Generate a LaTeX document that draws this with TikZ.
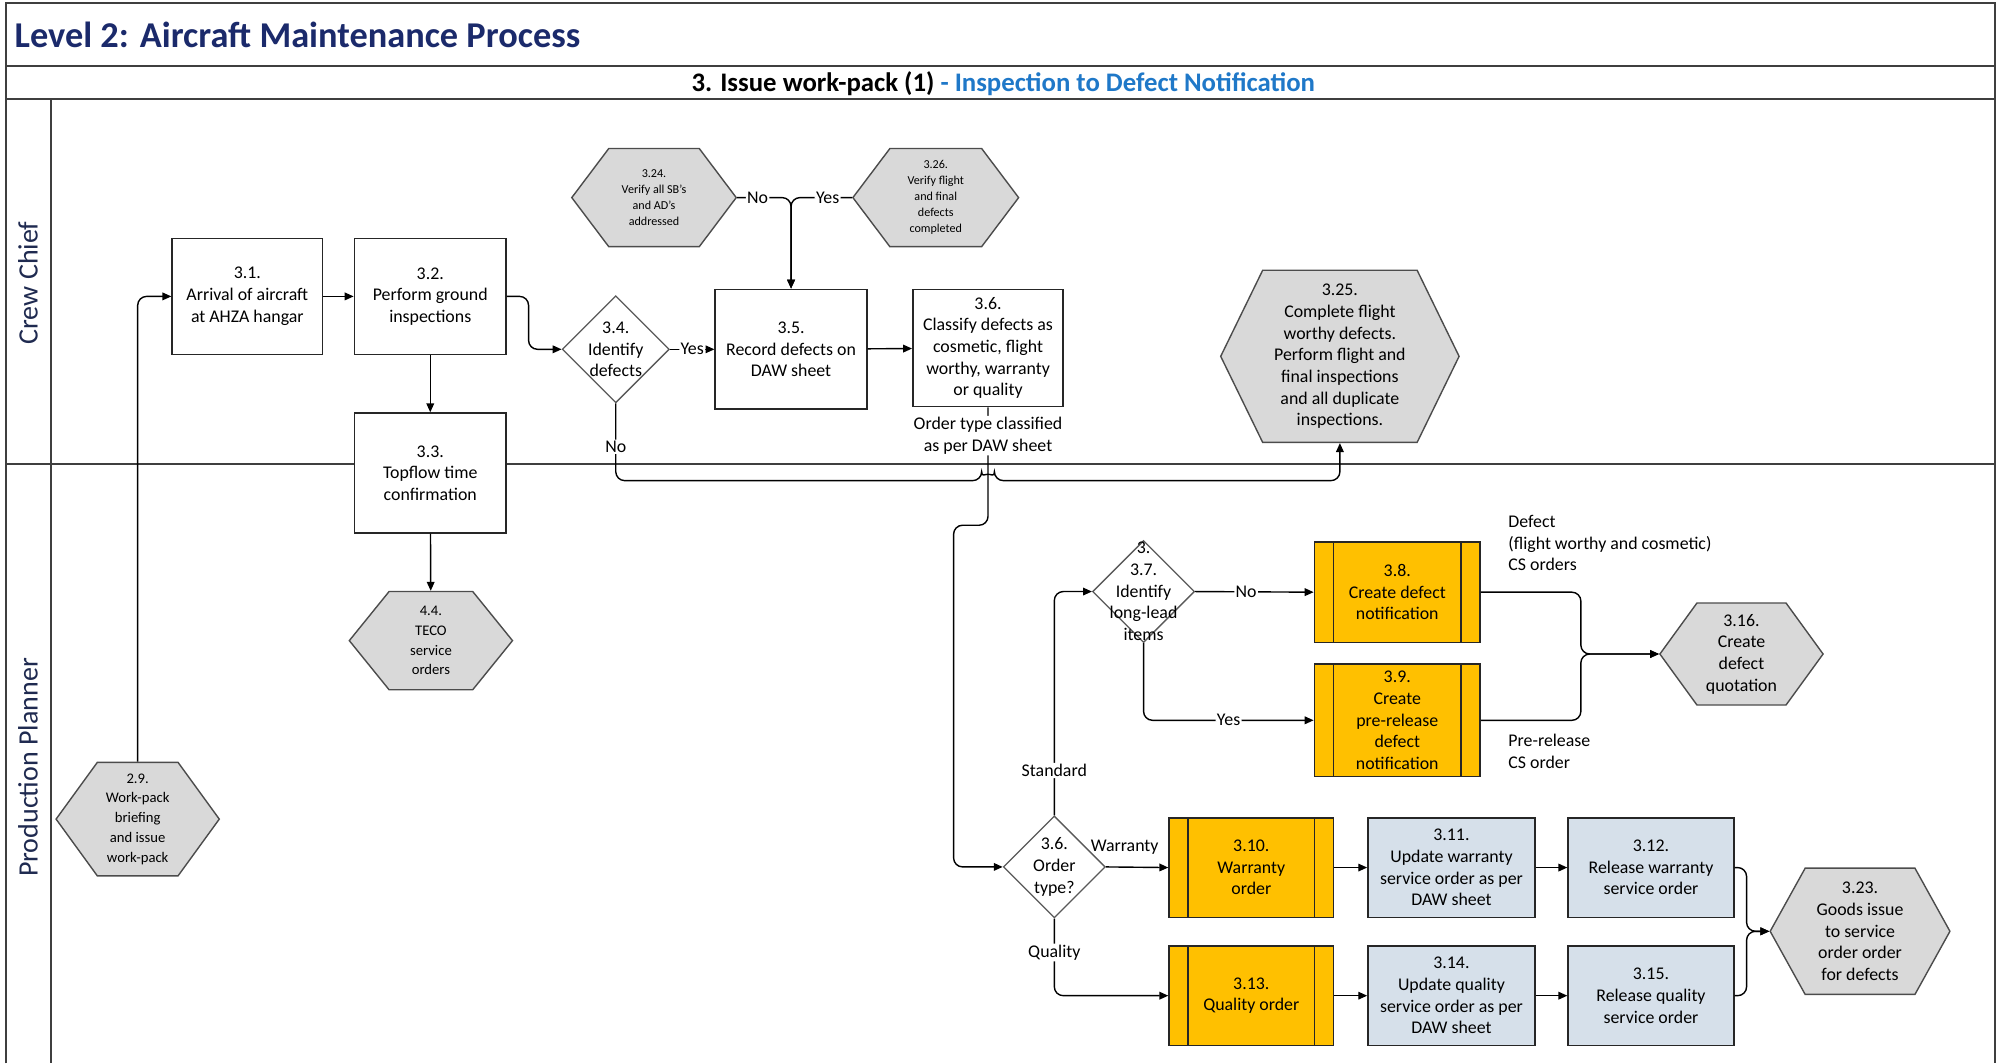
\documentclass[tikz,border=0pt]{standalone}
\usepackage{fontspec}
\setmainfont{Carlito}
\usetikzlibrary{arrows.meta}
\usetikzlibrary{calc}
\usetikzlibrary{shapes.geometric}
\usetikzlibrary{shapes.symbols}

\definecolor{titlenavy}{HTML}{1B2A6B}
\definecolor{lanenavy}{HTML}{1F2A50}
\definecolor{subblue}{HTML}{1F78C8}
\definecolor{framegrey}{HTML}{3F3F3F}
\definecolor{hexgrey}{HTML}{D9D9D9}
\definecolor{ordergold}{HTML}{FFC000}
\definecolor{sapblue}{HTML}{D6E0EA}

\begin{document}
\begin{tikzpicture}[x=1pt, y=-1pt,
    txt/.style={font=\fontsize{14}{17}\selectfont, align=center},
    process/.style={txt, rectangle, draw=black!85, line width=1.2pt, fill=white, inner sep=1pt},
    sapstep/.style={process, fill=sapblue},
    subproc/.style={process, fill=ordergold, path picture={
        \draw[line width=1.1pt] ([xshift=15pt]path picture bounding box.north west) -- ([xshift=15pt]path picture bounding box.south west);
        \draw[line width=1.1pt] ([xshift=-15pt]path picture bounding box.north east) -- ([xshift=-15pt]path picture bounding box.south east);}},
    decision/.style={diamond, draw=black!65, line width=1pt, fill=white, inner sep=0pt},
    event/.style={signal, signal to=west and east, signal pointer angle=#1, draw=black!70, line width=1.1pt, fill=hexgrey, align=center, inner sep=1pt},
    event/.default=108,
    lbl/.style={txt, fill=white, inner sep=1pt},
    flow/.style={-{Triangle[length=7pt, width=6pt]}, line width=1.1pt, rounded corners=7pt},
    lane/.style={draw=framegrey, line width=1.6pt},
    lanename/.style={rotate=90, font=\fontsize{22}{26}\selectfont, text=lanenavy}]

    \useasboundingbox (0,0) rectangle (1568,834);

    % swimlane frame
    \draw[lane] (5,834) -- (5,2) -- (1565,2) -- (1565,834);
    \draw[lane] (5,52) -- (1565,52);
    \draw[lane] (5,78) -- (1565,78);
    \draw[lane] (40,78) -- (40,834);
    \draw[lane] (5,364) -- (1565,364);

    \node[anchor=west, font=\fontsize{28.5}{32}\selectfont\bfseries, text=titlenavy] (title) at (8,27) {Level 2: Aircraft Maintenance Process};
    \node[font=\fontsize{21}{24}\selectfont\bfseries] (subtitle) at (787,65.5) {3. Issue work-pack (1) \textcolor{subblue}{- Inspection to Defect Notification}};
    \node[lanename] (crew) at (22,222) {Crew Chief};
    \node[lanename] (planner) at (22,602) {Production Planner};

    % crew chief lane
    \node[event=106, font=\fontsize{9.5}{12.5}\selectfont, minimum width=129, minimum height=77] (h324) at (513,155) {3.24.\\Verify all SB's\\and AD's\\addressed};
    \node[event=106, font=\fontsize{9.5}{12.5}\selectfont, minimum width=130, minimum height=77] (h326) at (734,155) {3.26.\\Verify flight\\and final\\defects\\completed};
    \node[process, minimum width=118, minimum height=91] (p31) at (194,232.5) {3.1.\\Arrival of aircraft\\at AHZA hangar};
    \node[process, minimum width=119, minimum height=91] (p32) at (337.5,232.5) {3.2.\\Perform ground\\inspections};
    \node[process, minimum width=119, minimum height=94] (p33) at (337.5,371) {3.3.\\Topflow time\\confirmation};
    \node[decision, minimum width=84, minimum height=84, label={[txt]center:{3.4.\\Identify\\defects}}] (d34) at (483,274) {};
    \node[process, minimum width=119, minimum height=94] (p35) at (620.5,274) {3.5.\\Record defects on\\DAW sheet};
    \node[process, minimum width=118, minimum height=92] (p36) at (775,273) {3.6.\\Classify defects as\\cosmetic, flight\\worthy, warranty\\or quality};
    \node[event=128, font=\fontsize{14}{17}\selectfont, minimum width=187, minimum height=135] (h325) at (1051,279.5) {3.25.\\Complete flight\\worthy defects.\\Perform flight and\\final inspections\\and all duplicate\\inspections.};

    % production planner lane
    \node[event=102, font=\fontsize{11.5}{15.5}\selectfont, minimum width=128, minimum height=77] (h44) at (338,502.5) {4.4.\\TECO\\service\\orders};
    \node[event=108, font=\fontsize{11.5}{15.5}\selectfont, minimum width=128, minimum height=89] (h29) at (108,642.5) {2.9.\\Work-pack\\briefing\\and issue\\work-pack};
    \node[decision, minimum width=80, minimum height=80, label={[txt]center:{3.\\3.7.\\Identify\\long-lead\\items}}] (d37) at (897,464) {};
    \node[subproc, minimum width=130, minimum height=79] (p38) at (1096,464.5) {3.8.\\Create defect\\notification};
    \node[subproc, minimum width=130, minimum height=88] (p39) at (1096,565) {3.9.\\Create\\pre-release\\defect\\notification};
    \node[event=108, font=\fontsize{14}{17}\selectfont, minimum width=128, minimum height=80] (h316) at (1366,513) {3.16.\\Create\\defect\\quotation};
    \node[decision, minimum width=80, minimum height=80, label={[txt]center:{3.6.\\Order\\type?}}] (d36) at (827,680) {};
    \node[subproc, minimum width=129, minimum height=78] (p310) at (981.5,680.5) {3.10.\\Warranty\\order};
    \node[sapstep, minimum width=131, minimum height=78] (p311) at (1138.5,680.5) {3.11.\\Update warranty\\service order as per\\DAW sheet};
    \node[sapstep, minimum width=130, minimum height=78] (p312) at (1295,680.5) {3.12.\\Release warranty\\service order};
    \node[subproc, minimum width=129, minimum height=78] (p313) at (981.5,781) {3.13.\\Quality order};
    \node[sapstep, minimum width=131, minimum height=78] (p314) at (1138.5,781) {3.14.\\Update quality\\service order as per\\DAW sheet};
    \node[sapstep, minimum width=130, minimum height=78] (p315) at (1295,781) {3.15.\\Release quality\\service order};
    \node[event=122, font=\fontsize{14}{17}\selectfont, minimum width=141, minimum height=99] (h323) at (1459,730.5) {3.23.\\Goods issue\\to service\\order order\\for defects};

    \node[txt, align=left, anchor=north west, inner sep=0pt] (defnote) at (1183,404) {Defect\\(flight worthy and cosmetic)\\CS orders};
    \node[txt, align=left, anchor=north west, inner sep=0pt] (prenote) at (1183,576) {Pre-release\\CS order};

    \coordinate (drop) at (748,412);
    \coordinate (jq) at (1240,513);
    \coordinate (jg) at (1370,730.5);

    \draw[flow] (h29.north) |- (p31.west);
    \draw[flow] (p31) -- (p32);
    \draw[flow] (p32.east) -- ++(17,0) |- (d34.west);
    \draw[flow] (p32) -- (p33);
    \draw[flow] (p33) -- (h44);
    \draw[flow] (h324.east) -| node[lbl, pos=0.19] {No} (p35.north);
    \draw[flow] (h326.west) -| node[lbl, pos=0.2] {Yes} (p35.north);
    \draw[flow] (d34) -- node[lbl] {Yes} (p35);
    \draw[flow] (p35) -- (p36);
    \draw[flow] (d34.south) |- node[lbl, pos=0.28] {No} ($(p36.south |- 0,377)+(-5,0)$)
        arc[start angle=180, end angle=0, radius=5pt] -| (h325.south);
    \draw[flow] (p36.south) |- node[lbl, pos=0.12] {Order type classified\\as per DAW sheet} (drop) |- (d36.west);
    \draw[flow] (d36.north) |- node[lbl, pos=0.1] {Standard} (d37.west);
    \draw[flow] (d37.east) -- node[lbl, pos=0.43] {No} (p38.west);
    \draw[flow] (d37.south) |- node[lbl, pos=0.75] {Yes} (p39.west);
    \draw[flow] (p38.east) -| (jq) -- (h316.west);
    \draw[flow] (p39.east) -| (jq) -- (h316.west);
    \draw[flow] (d36.east) -- node[txt, above=6pt, pos=0.3] {Warranty} (p310.west);
    \draw[flow] (d36.south) |- node[lbl, pos=0.22] {Quality} (p313.west);
    \draw[flow] (p310) -- (p311);
    \draw[flow] (p311) -- (p312);
    \draw[flow] (p313) -- (p314);
    \draw[flow] (p314) -- (p315);
    \draw[flow] (p312.east) -| (jg) -- (h323.west);
    \draw[flow] (p315.east) -| (jg) -- (h323.west);
\end{tikzpicture}
\end{document}
